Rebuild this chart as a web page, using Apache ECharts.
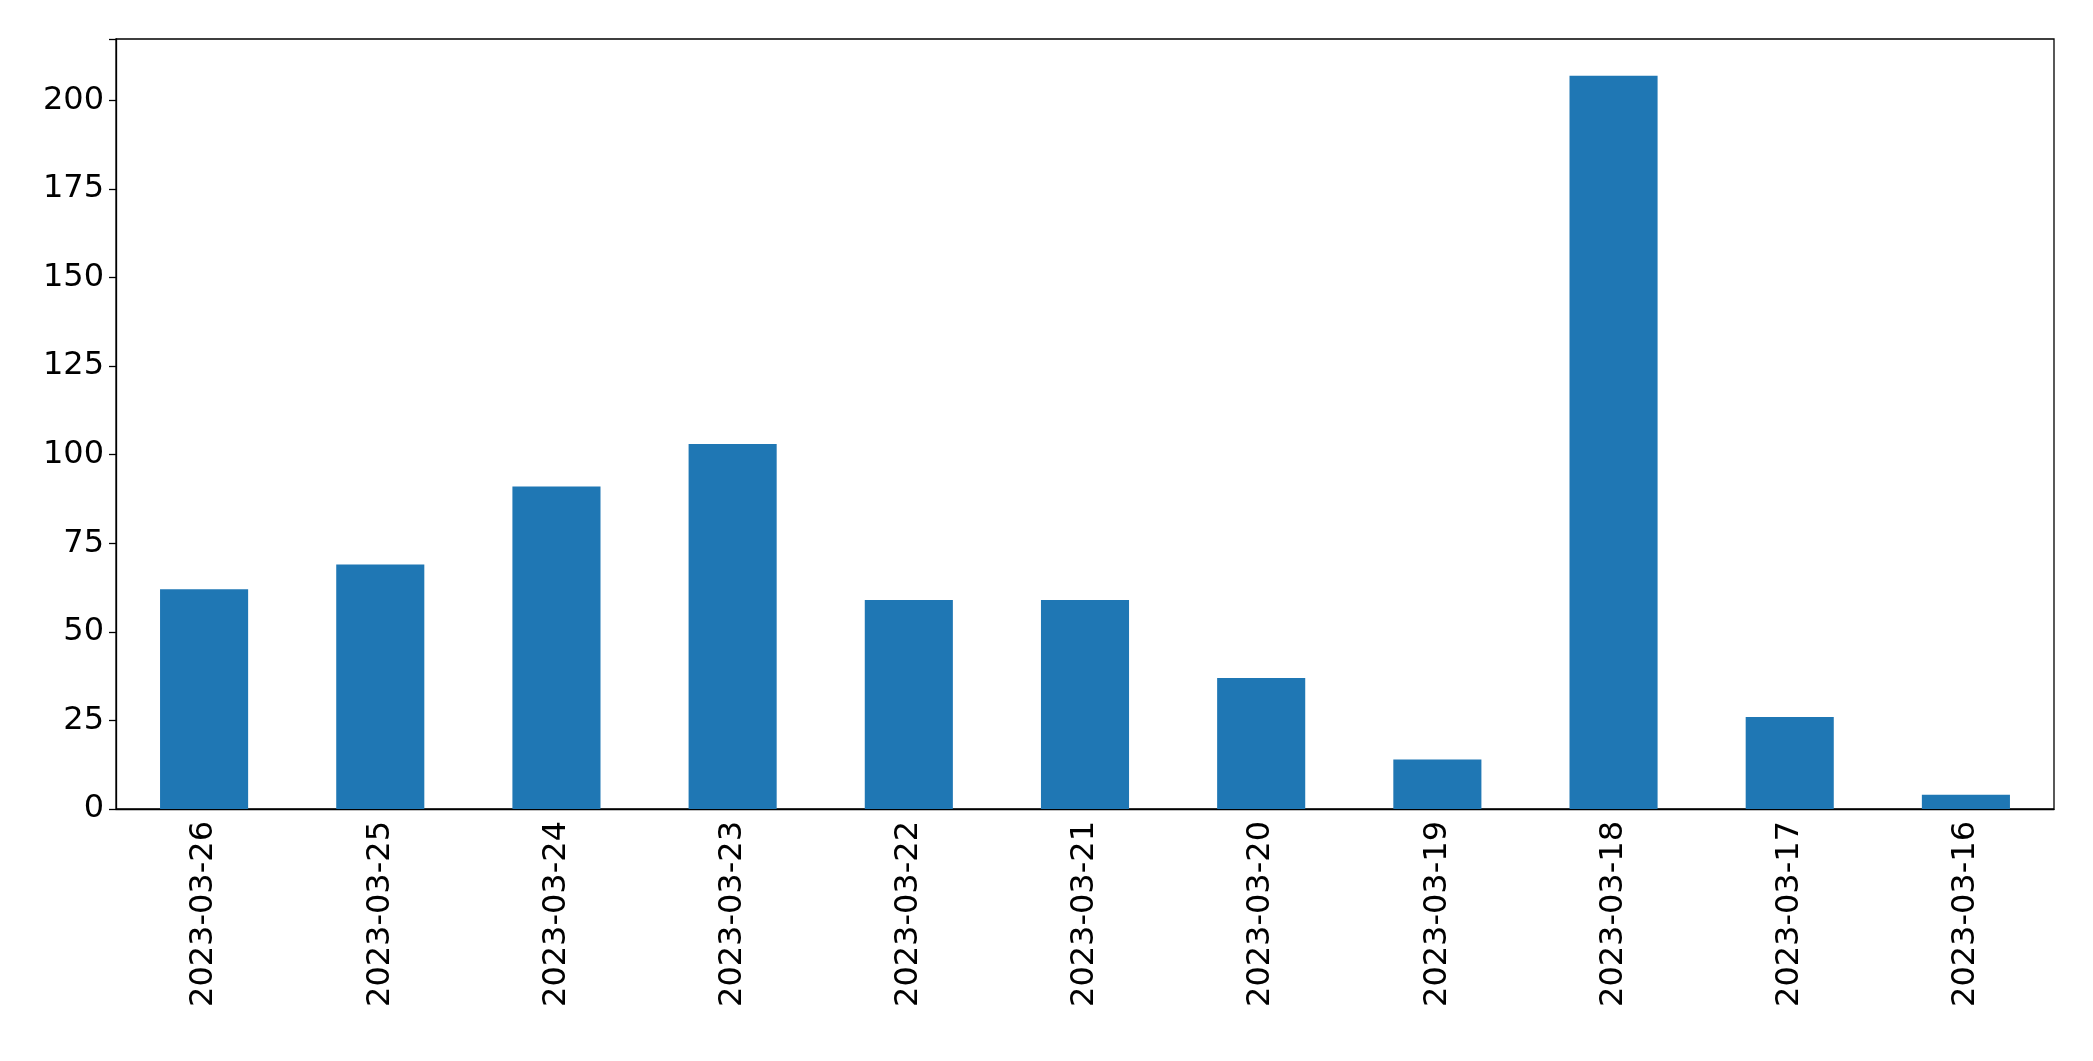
<!DOCTYPE html>
<html><head><meta charset="utf-8">
<script src="https://cdn.jsdelivr.net/npm/echarts@6/dist/echarts.min.js"></script>
<style>html,body{margin:0;padding:0;background:#fff}#c{width:2093px;height:1061px}</style>
</head><body><div id="c"></div>
<script>
const categories = ["2023-03-26","2023-03-25","2023-03-24","2023-03-23","2023-03-22","2023-03-21","2023-03-20","2023-03-19","2023-03-18","2023-03-17","2023-03-16"];
const values = [62, 69, 91, 103, 59, 59, 37, 14, 207, 26, 4];
const chart = echarts.init(document.getElementById('c'));
chart.setOption({
  animation: false,
  grid: {left: 116, right: 39, top: 39, bottom: 252, show: true, borderColor: '#000', borderWidth: 1.3, containLabel: false},
  xAxis: {type: 'category', data: categories,
    axisLine: {lineStyle: {color: '#000', width: 1.3}},
    axisTick: {alignWithLabel: true, length: 7, lineStyle: {color: '#000', width: 1.3}},
    axisLabel: {rotate: 90, fontSize: 32, color: '#000', fontFamily: 'DejaVu Sans', margin: 12}},
  yAxis: {type: 'value', min: 0, max: 217.35, interval: 25,
    axisLine: {show: true, lineStyle: {color: '#000', width: 1.3}},
    axisTick: {show: true, length: 7, lineStyle: {color: '#000', width: 1.3}},
    splitLine: {show: false},
    axisLabel: {fontSize: 32, color: '#000', fontFamily: 'DejaVu Sans', margin: 12,
      formatter: v => (v % 25 === 0 ? String(v) : '')}},
  series: [{type: 'bar', data: values, barWidth: '50%', itemStyle: {color: '#1f77b4'}}]
});
</script></body></html>
